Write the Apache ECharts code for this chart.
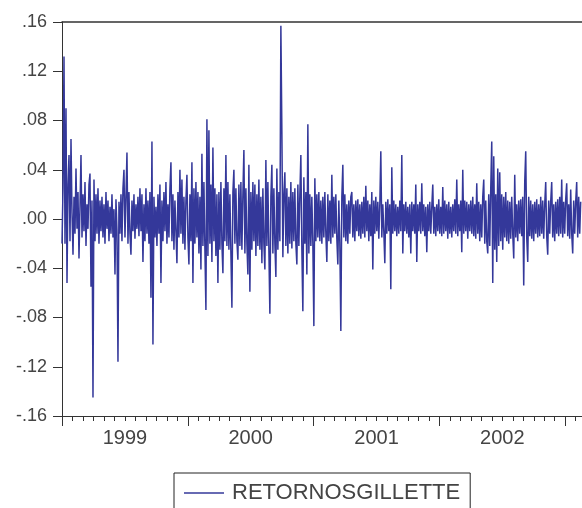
<!DOCTYPE html>
<html>
<head>
<meta charset="utf-8">
<title>RETORNOSGILLETTE</title>
<script src="https://cdn.jsdelivr.net/npm/echarts@6/dist/echarts.min.js"></script>
<style>
  html, body { margin: 0; padding: 0; background: #fff; }
  #chart { width: 582px; height: 508px; }
</style>
</head>
<body>
<div id="chart"></div>
<script>
// serie de retornos, un punto cada ~2 ruedas, desde enero 1999
const seriesName = "RETORNOSGILLETTE"
const pointsPerMonth = 10.49
const yearLabels = ["1999", "2000", "2001", "2002"]
const yTicks = [-0.16, -0.12, -0.08, -0.04, 0, 0.04, 0.08, 0.12, 0.16]

const retornos = [
  -.020, .025, .132, -.020, .090, -.052, .028, .052, -.018, .065, .005, -.029, .018, -.012, .041, -.008, .022, -.032, .010, .052,
  -.015, .020, -.010, .030, -.022, .012, -.008, .028, .037, -.055, .015, -.145, .032, -.018, .020, -.012, .025, -.020, .015, -.010,
  .018, -.015, .012, -.020, .022, -.008, .015, -.018, .010, -.012, .020, -.015, .008, -.045, .016, -.010, -.116, .014, -.012, .020,
  -.018, .025, .040, -.015, .018, .054, -.020, .022, -.012, -.029, .015, -.010, .020, -.016, .012, -.008, .018, -.014, .025, -.010,
  .020, -.035, .012, -.018, .025, -.012, .015, -.020, .022, -.064, .063, -.102, .018, -.015, .010, -.022, .020, -.012, .028, -.052,
  .015, -.018, .022, -.010, .030, -.020, .012, -.015, .025, .046, -.018, .020, -.025, .015, -.010, -.036, .022, -.015, .040, -.012,
  .032, -.020, .018, -.025, .015, .036, -.015, -.037, .020, -.018, .046, -.052, .025, -.020, .030, -.015, .022, -.028, .018, -.041,
  .053, -.022, .030, -.025, -.074, .081, -.030, .072, -.020, .028, -.035, .058, -.018, .025, -.030, .020, -.052, .022, -.025, .030,
  -.020, -.044, .025, -.018, .052, -.022, .030, -.025, .020, -.028, -.072, .022, .040, -.020, .025, -.018, -.033, .028, -.022, .030,
  -.025, .020, .056, -.028, .025, -.020, -.045, .044, -.059, .022, -.025, .030, -.018, .028, -.030, .020, -.022, .032, -.025, .018,
  -.036, .025, -.020, -.041, .048, -.022, .030, -.025, -.077, .018, .044, -.028, .025, -.020, -.047, .041, -.025, .022, -.018, .157,
  .071, -.031, .020, .038, -.022, .025, -.028, .018, -.020, .030, -.024, .022, -.018, .025, -.020, -.037, .028, -.022, .020, .052,
  -.025, -.075, .034, -.020, .022, -.045, .077, -.028, .020, -.022, .018, -.020, -.087, .033, -.018, .020, -.015, .022, -.018, .015,
  -.020, .018, -.015, .022, -.012, -.035, .020, -.018, .015, -.020, .036, -.015, .018, -.012, .020, -.016, -.037, .015, -.020, -.091,
  .018, .044, -.015, .020, -.018, .012, -.020, .015, -.012, .018, .022, -.015, .012, -.018, .015, -.010, .016, -.014, .012, -.016,
  .014, -.012, .018, -.015, .027, -.010, .015, -.018, .012, -.014, .022, -.041, .015, -.012, .018, -.010, .014, -.016, .012, .055,
  -.015, .012, -.010, -.036, .014, -.012, .016, -.010, .012, -.057, .042, -.012, .015, -.010, .012, -.014, .010, -.012, .015, -.010,
  .052, -.028, .012, -.010, .014, -.012, .010, -.015, .012, -.028, .014, -.010, .012, -.012, .028, -.035, .012, -.010, .014, -.012,
  .029, -.010, .012, -.014, .010, -.027, .012, -.010, .014, -.012, .010, .028, -.012, .010, -.014, .012, -.010, .016, -.012, .010,
  -.014, .026, -.012, .015, -.010, .012, -.016, .014, -.012, .010, -.015, .012, -.010, .016, -.012, .032, -.014, .012, -.010, .015,
  -.027, .040, -.012, .015, -.010, .014, -.016, .012, -.010, .015, -.012, .018, -.014, .012, -.016, .029, -.012, .014, -.018, .012,
  -.015, .018, .032, -.020, .015, -.018, -.028, .020, -.022, .025, .063, -.052, .051, -.025, .020, -.035, .041, -.022, .038, -.018,
  .020, -.025, .018, -.015, .022, -.018, .015, -.020, .014, -.016, .018, -.012, -.032, .036, -.015, .012, -.018, .015, -.012, .016,
  -.014, .018, -.054, .030, .055, -.015, -.035, .018, -.014, .015, -.016, .012, -.018, .014, -.012, .016, -.015, .012, -.014, .018,
  -.012, .015, -.016, .012, .030, -.014, -.029, .015, -.012, .014, .030, -.015, .012, -.018, .014, -.012, .016, -.014, .018, -.012,
  .032, -.015, .014, -.012, .016, .029, -.014, .012, -.016, .024, -.012, -.028, .015, -.012, .014, .030, -.015, .018, -.012, .014
]

const chart = echarts.init(document.getElementById("chart"), null, { renderer: "canvas" })

// meses desde enero 1999
const puntos = retornos.map((v, i) => [i / pointsPerMonth, v])

const textColor = "#444"
const font = "'Liberation Sans', Arial, sans-serif"
const axisColor = "#333"
const lineColor = "#34389a"
const xMax = 49.6

const yLabel = (v) => Number(v).toFixed(2).replace("0.", ".")

chart.setOption({
  animation: false,
  grid: {
    left: 62,
    right: 0,
    top: 22,
    bottom: 92
  },
  legend: {
    data: [{ name: seriesName, icon: "rect" }],
    left: 174,
    top: 473,
    padding: [9, 10, 10, 10],
    borderColor: "#222",
    borderWidth: 1,
    itemWidth: 40,
    itemHeight: 1.5,
    itemStyle: { color: lineColor },
    textStyle: {
      fontSize: 22,
      color: textColor,
      fontFamily: font,
      padding: [0, 0, 0, 3]
    }
  },
  xAxis: [
    {
      type: "value",
      min: 0,
      max: xMax,
      interval: 1,
      axisLine: { show: true, onZero: false, lineStyle: { color: axisColor, width: 1 } },
      axisTick: { show: true, length: 5, lineStyle: { color: axisColor } },
      splitLine: { show: false },
      axisLabel: {
        margin: 12,
        fontSize: 20,
        color: textColor,
        fontFamily: font,
        showMaxLabel: false,
        formatter: (v) => {
          const m = Math.round(v)
          if (m % 12 !== 6) return ""
          return yearLabels[(m - 6) / 12] || ""
        }
      }
    },
    {
      type: "value",
      min: 0,
      max: xMax,
      interval: 12,
      position: "bottom",
      axisLine: { show: false, onZero: false },
      axisTick: { show: true, length: 10, lineStyle: { color: axisColor } },
      splitLine: { show: false },
      axisLabel: { show: false }
    },
    {
      // borde superior del cuadro
      type: "value",
      min: 0,
      max: xMax,
      position: "top",
      axisLine: { show: true, onZero: false, lineStyle: { color: axisColor, width: 1.5 } },
      axisTick: { show: false },
      splitLine: { show: false },
      axisLabel: { show: false }
    }
  ],
  yAxis: {
    type: "value",
    min: yTicks[0],
    max: yTicks[yTicks.length - 1],
    interval: 0.04,
    axisLine: { show: true, onZero: false, lineStyle: { color: axisColor, width: 1 } },
    axisTick: { show: true, length: 9, lineStyle: { color: axisColor } },
    splitLine: { show: false },
    axisLabel: {
      margin: 15,
      fontSize: 18,
      color: textColor,
      fontFamily: font,
      formatter: yLabel
    }
  },
  series: [
    {
      name: seriesName,
      type: "line",
      xAxisIndex: 0,
      data: puntos,
      symbol: "none",
      showSymbol: false,
      clip: true,
      lineStyle: { color: lineColor, width: 1.5 },
      itemStyle: { color: lineColor }
    }
  ]
})
</script>
</body>
</html>
